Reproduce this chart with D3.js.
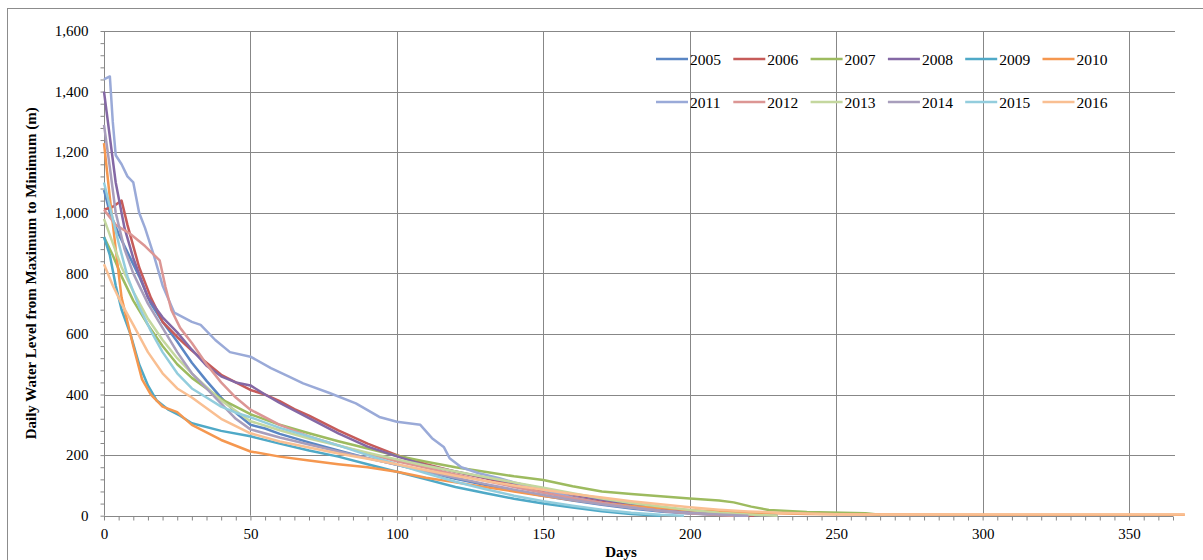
<!DOCTYPE html>
<html>
<head>
<meta charset="utf-8">
<script src="https://cdn.jsdelivr.net/npm/d3@7"></script>
<style>
  html, body { margin: 0; padding: 0; background: #fff; }
  svg { display: block; }
  text { font-family: "Liberation Serif", "Times New Roman", serif; fill: #000; }
</style>
</head>
<body>
<svg id="chart" width="1203" height="560"></svg>
<script>
// Duration curves: daily water level (m above the yearly minimum), ranked from
// maximum to minimum, as [day, level] pairs for each year.
const years = ["2005","2006","2007","2008","2009","2010","2011","2012","2013","2014","2015","2016"];

const s2005 = [[0,1075],[2,1000],[5,930],[8,870],[12,790],[16,700],[20,640],[25,575],[30,505],[35,445],[40,390],[45,340],[50,300],[55,288],[60,270],[70,242],[80,215],[90,190],[100,168],[110,145],[120,122],[130,102],[140,83],[150,66],[160,50],[170,36],[180,24],[190,14],[200,7],[210,3],[220,0]];
const s2006 = [[0,1010],[3,1020],[6,1040],[8,960],[12,820],[16,720],[20,640],[25,590],[30,545],[35,505],[40,465],[45,440],[50,415],[55,400],[60,378],[65,352],[70,330],[80,282],[90,238],[100,200],[110,170],[120,145],[130,124],[140,102],[150,82],[160,62],[170,46],[180,31],[190,19],[200,10],[210,4],[222,0]];
const s2007 = [[0,920],[3,860],[6,790],[10,710],[15,630],[20,560],[25,500],[30,455],[40,385],[50,335],[60,300],[70,272],[80,246],[90,222],[100,198],[110,178],[120,160],[130,145],[140,130],[150,118],[160,97],[170,80],[180,72],[190,64],[200,57],[210,50],[215,44],[221,30],[227,19],[240,12],[260,8],[265,3]];
const s2008 = [[0,1400],[2,1250],[4,1100],[7,950],[10,850],[15,720],[20,655],[25,605],[30,548],[35,495],[40,460],[45,440],[50,430],[55,400],[60,372],[70,322],[80,272],[90,228],[100,196],[110,166],[120,146],[130,126],[140,108],[150,90],[160,70],[170,53],[180,38],[190,25],[200,15],[210,8],[220,3],[230,0]];
const s2009 = [[0,920],[2,860],[4,760],[6,680],[9,600],[12,500],[15,430],[18,380],[22,350],[26,330],[30,305],[40,280],[50,262],[60,238],[70,215],[80,195],[90,170],[100,145],[110,120],[120,95],[130,75],[140,56],[150,40],[160,27],[170,15],[180,6],[190,0]];
const s2010 = [[0,1230],[2,1050],[4,880],[6,720],[8,640],[10,560],[13,450],[16,400],[20,360],[25,342],[30,300],[40,250],[50,212],[60,195],[70,182],[80,170],[90,160],[100,145],[110,125],[120,110],[130,95],[140,80],[150,65],[160,52],[170,42],[180,32],[190,25],[200,18],[210,14],[220,10],[230,8],[240,6],[250,5],[270,4],[300,3],[330,3],[369,3]];
const s2011 = [[0,1440],[2,1450],[3,1300],[4,1190],[6,1160],[8,1120],[10,1100],[12,1000],[14,950],[17,860],[20,760],[24,670],[30,640],[33,630],[38,580],[43,540],[50,525],[57,487],[63,460],[68,437],[77,405],[86,371],[94,326],[100,310],[108,300],[112,256],[116,227],[118,190],[122,160],[128,140],[135,124],[140,110],[150,85],[160,60],[170,42],[180,28],[190,16],[200,8],[210,3],[220,0]];
const s2012 = [[0,1010],[4,960],[9,930],[14,890],[19,843],[21,755],[23,679],[26,620],[30,570],[35,500],[40,440],[45,390],[50,350],[60,300],[70,262],[80,232],[90,205],[100,180],[110,158],[120,136],[130,115],[140,95],[150,76],[160,58],[170,42],[180,28],[190,16],[200,8],[210,2],[215,0]];
const s2013 = [[0,980],[3,900],[6,820],[10,740],[15,650],[20,580],[25,520],[30,470],[40,380],[50,312],[60,282],[70,255],[80,232],[90,208],[100,186],[110,165],[120,146],[130,128],[140,110],[150,92],[160,74],[170,57],[180,42],[190,30],[200,19],[210,10],[220,4],[230,0]];
const s2014 = [[0,1290],[2,1150],[4,1000],[7,880],[10,800],[15,700],[20,620],[25,540],[30,470],[35,420],[40,370],[45,320],[50,285],[60,258],[70,235],[80,212],[90,190],[100,168],[110,146],[120,125],[130,105],[140,86],[150,68],[160,52],[170,38],[180,26],[190,16],[200,9],[210,4],[220,0]];
const s2015 = [[0,1100],[2,1020],[5,900],[8,790],[12,690],[16,610],[20,540],[25,470],[30,420],[35,390],[40,360],[45,340],[50,325],[60,290],[70,262],[80,232],[90,200],[100,170],[110,140],[120,112],[130,88],[140,66],[150,48],[160,33],[170,20],[180,10],[190,3],[198,0]];
const s2016 = [[0,830],[3,760],[6,700],[10,630],[15,540],[20,470],[25,420],[30,390],[40,320],[50,272],[60,245],[70,225],[80,205],[90,188],[100,170],[110,150],[120,132],[130,115],[140,100],[150,86],[160,72],[170,60],[180,48],[190,38],[200,28],[210,20],[220,14],[230,10],[240,7],[250,5],[270,4],[300,4],[330,4],[369,4]];

const seriesValues = [s2005, s2006, s2007, s2008, s2009, s2010, s2011, s2012, s2013, s2014, s2015, s2016];

const xTicks = [0, 50, 100, 150, 200, 250, 300, 350];
const yTicks = [0, 200, 400, 600, 800, 1000, 1200, 1400, 1600];

const colors = ["#5a86c4","#c65b59","#9dbb5f","#8468a5","#4fa9c7","#f5974f",
                "#9aaad8","#dc9694","#c4d79e","#a89ebc","#93cddd","#f9bf92"];

const svg = d3.select("#chart");

// outer chart frame
svg.append("rect")
  .attr("x", 7.5).attr("y", 8.5).attr("width", 1220).attr("height", 600)
  .attr("fill", "none").attr("stroke", "#8c8c8c").attr("stroke-width", 1);

const plotLeft = 104, plotRight = 1173, plotTop = 31, plotBottom = 515.7;
const x = d3.scaleLinear().domain([0, 365]).range([plotLeft, plotRight]);
const y = d3.scaleLinear().domain([0, 1600]).range([plotBottom, plotTop]);

const grid = svg.append("g");
// horizontal gridlines
grid.selectAll("line.h").data(yTicks.filter(v => v > 0)).join("line")
  .attr("x1", plotLeft).attr("x2", 1175)
  .attr("y1", d => Math.round(y(d)) + 0.5).attr("y2", d => Math.round(y(d)) + 0.5)
  .attr("stroke", "#878787").attr("stroke-width", 1);
// vertical gridlines
grid.selectAll("line.v").data(xTicks.filter(v => v > 0)).join("line")
  .attr("x1", d => Math.round(x(d)) + 0.5).attr("x2", d => Math.round(x(d)) + 0.5)
  .attr("y1", plotTop).attr("y2", plotBottom)
  .attr("stroke", "#878787").attr("stroke-width", 1);

// y axis with minor ticks every 40
const yAxis = d3.axisLeft(y)
  .tickValues(d3.range(0, 1601, 40))
  .tickSize(4)
  .tickFormat(d => yTicks.includes(d) ? d3.format(",")(d) : "");
const gy = svg.append("g").attr("transform", `translate(${plotLeft + 0.5},0)`).call(yAxis);
gy.select(".domain").attr("stroke", "#878787").attr("d", `M0,${plotTop}V${plotBottom}`);
gy.selectAll(".tick line").attr("stroke", "#878787");
gy.selectAll(".tick text")
  .attr("x", -16)
  .style("font-family", "'Liberation Serif', serif")
  .style("font-size", "15px").attr("fill", "#000");

// x axis with minor ticks every 5 days
const xAxis = d3.axisBottom(x)
  .tickValues(d3.range(0, 366, 5))
  .tickSize(4)
  .tickFormat(d => xTicks.includes(d) ? d : "");
const gx = svg.append("g").attr("transform", `translate(0,${Math.round(plotBottom) + 0.5})`).call(xAxis);
gx.select(".domain").attr("stroke", "#878787").attr("d", `M${plotLeft},0H${plotRight}`);
gx.selectAll(".tick line").attr("stroke", "#878787");
gx.selectAll(".tick text")
  .attr("y", 12)
  .style("font-family", "'Liberation Serif', serif")
  .style("font-size", "15px").attr("fill", "#000");

// series lines
const line = d3.line().x(d => x(d[0])).y(d => y(d[1]));
svg.append("g").selectAll("path").data(seriesValues).join("path")
  .attr("d", line)
  .attr("fill", "none")
  .attr("stroke", (d, i) => colors[i])
  .attr("stroke-width", 2.5)
  .attr("stroke-linejoin", "round");

// axis titles
svg.append("text")
  .attr("transform", `translate(36,${(plotTop + plotBottom) / 2}) rotate(-90)`)
  .attr("text-anchor", "middle")
  .style("font-size", "15px").style("font-weight", "bold")
  .text("Daily Water Level from Maximum to Minimum (m)");
svg.append("text")
  .attr("x", 621).attr("y", 557)
  .attr("text-anchor", "middle")
  .style("font-size", "15px").style("font-weight", "bold")
  .text("Days");

// legend: two rows of six
const legend = svg.append("g").selectAll("g").data(years).join("g")
  .attr("transform", (d, i) => `translate(${656 + (i % 6) * 77.3},${i < 6 ? 59 : 102})`);
legend.append("line")
  .attr("x1", 0).attr("x2", 32).attr("y1", 0).attr("y2", 0)
  .attr("stroke", (d, i) => colors[i]).attr("stroke-width", 2.5);
legend.append("text")
  .attr("x", 34).attr("y", 5.5)
  .style("font-size", "15.5px")
  .text(d => d);
</script>
</body>
</html>
